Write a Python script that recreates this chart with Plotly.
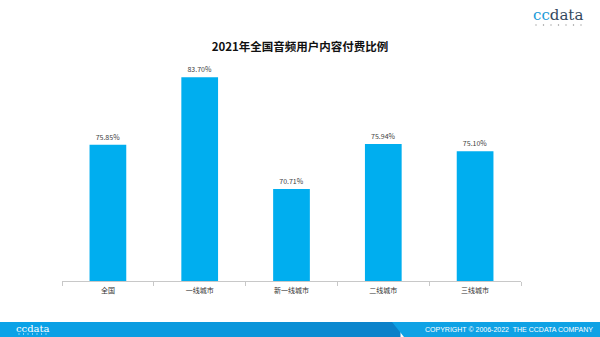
import plotly.graph_objects as go

# Share of audio users paying for content, by city tier (2021)
categories = ["全国", "一线城市", "新一线城市", "二线城市", "三线城市"]
pay_ratio = [75.85, 83.70, 70.71, 75.94, 75.10]
value_labels = ["75.85%", "83.70%", "70.71%", "75.94%", "75.10%"]

BAR_COLOR = "#00aeef"
FONT = "Noto Sans CJK SC, Noto Sans, sans-serif"

W, H = 600, 337
ML, MR, MT, MB = 62, 79, 60, 56

fig = go.Figure(
    go.Bar(
        x=categories,
        y=pay_ratio,
        text=value_labels,
        textposition="outside",
        textfont=dict(size=7, color="#404040", family=FONT),
        marker=dict(color=BAR_COLOR, line=dict(width=0)),
        cliponaxis=False,
        hoverinfo="skip",
    )
)

fig.update_layout(
    width=W,
    height=H,
    margin=dict(l=ML, r=MR, t=MT, b=MB),
    paper_bgcolor="white",
    plot_bgcolor="white",
    bargap=0.6,
    showlegend=False,
    font=dict(family=FONT, color="#333333"),
    title=dict(
        text="<b>2021年全国音频用户内容付费比例</b>",
        x=0.5,
        xanchor="center",
        y=0.862,
        yanchor="middle",
        font=dict(size=11.5, color="#111111", family=FONT),
    ),
)

fig.update_xaxes(
    showline=True,
    linecolor="#c8c8c8",
    linewidth=1,
    ticks="outside",
    tickson="boundaries",
    ticklen=4,
    tickcolor="#c8c8c8",
    ticklabelstandoff=3,
    tickfont=dict(size=7, color="#333333", family=FONT),
    showgrid=False,
)
fig.update_yaxes(range=[60, 85.7], visible=False, showgrid=False)

plot_w = W - ML - MR
plot_h = H - MT - MB


def px_x(px):
    return (px - ML) / plot_w


def px_y(py):
    return (H - MB - py) / plot_h


def hex_mix(c1, c2, t):
    a = [int(c1[i:i + 2], 16) for i in (1, 3, 5)]
    b = [int(c2[i:i + 2], 16) for i in (1, 3, 5)]
    return "#" + "".join(f"{round(a[k] + (b[k] - a[k]) * t):02x}" for k in range(3))


shapes = []
# footer band: light blue on the left, shading darker toward the middle
FOOT_TOP = 322
steps = 40
left_c, mid_c, dark_c = "#0aa3e8", "#0a97dc", "#0b80c8"
for i in range(steps):
    x0 = 400 * i / steps
    x1 = 400 * (i + 1) / steps + 0.5
    t = i / (steps - 1)
    if t < 0.6:
        c = hex_mix(left_c, mid_c, t / 0.6)
    else:
        c = hex_mix(mid_c, dark_c, (t - 0.6) / 0.4)
    shapes.append(dict(type="rect", xref="paper", yref="paper",
                       x0=px_x(x0), x1=px_x(x1), y0=px_y(H), y1=px_y(FOOT_TOP),
                       fillcolor=c, line=dict(width=0), layer="above"))
# lighter right section with a slanted edge
shapes.append(dict(
    type="path", xref="paper", yref="paper",
    path=(f"M {px_x(392)},{px_y(FOOT_TOP)} L {px_x(W)},{px_y(FOOT_TOP)} "
          f"L {px_x(W)},{px_y(H)} L {px_x(404)},{px_y(H)} Z"),
    fillcolor="#0fa2e5", line=dict(width=0), layer="above"))

# dotted underline of the top-right brand mark
for k in range(7):
    cx = 536 + k * 7.5
    shapes.append(dict(type="rect", xref="paper", yref="paper",
                       x0=px_x(cx - 0.6), x1=px_x(cx + 0.6), y0=px_y(25.6), y1=px_y(24.4),
                       fillcolor="#8a8a8a", line=dict(width=0), layer="above"))
# dotted underline of the footer brand mark
for k in range(7):
    cx = 19 + k * 4.5
    shapes.append(dict(type="rect", xref="paper", yref="paper",
                       x0=px_x(cx - 0.5), x1=px_x(cx + 0.5), y0=px_y(334.5), y1=px_y(333.5),
                       fillcolor="white", line=dict(width=0), layer="above"))
fig.update_layout(shapes=shapes)

annotations = [
    # brand mark, top right
    dict(xref="paper", yref="paper", x=px_x(558), y=px_y(15), xanchor="center", yanchor="middle",
         text="<span style='color:#1b9ad8'>cc</span><span style='color:#34495e'>data</span>",
         showarrow=False, font=dict(size=15, family="DejaVu Serif, Liberation Serif, serif")),
    # footer brand
    dict(xref="paper", yref="paper", x=px_x(33), y=px_y(328), xanchor="center", yanchor="middle",
         text="ccdata", showarrow=False,
         font=dict(size=10, color="white", family="DejaVu Serif, Liberation Serif, serif")),
    # footer copyright
    dict(xref="paper", yref="paper", x=px_x(595), y=px_y(329.5), xanchor="right", yanchor="middle",
         text="COPYRIGHT © 2006-2022  THE CCDATA COMPANY", showarrow=False,
         font=dict(size=7, color="white", family="Liberation Sans Narrow, Liberation Sans, sans-serif")),
]
fig.update_layout(annotations=annotations)

fig.write_html("out.html")
